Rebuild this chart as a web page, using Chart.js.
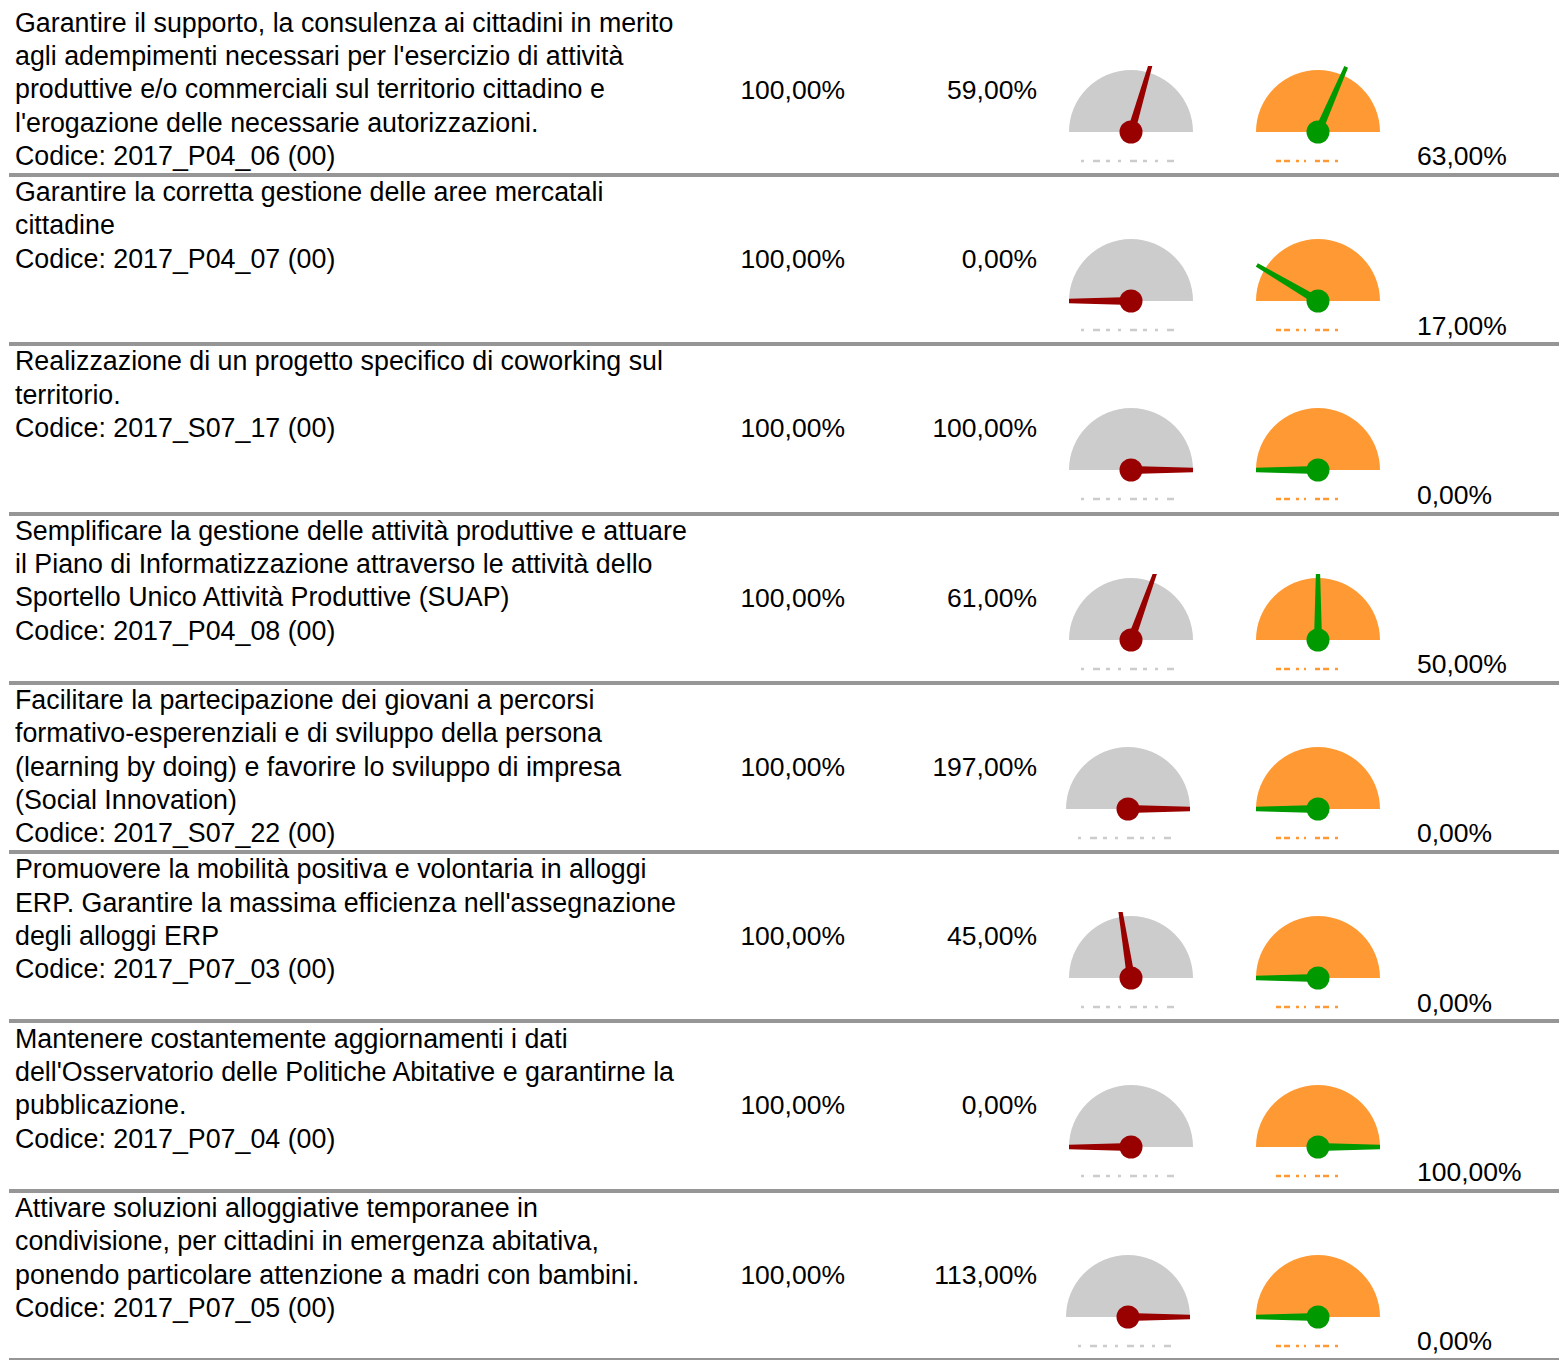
<!DOCTYPE html>
<html>
<head>
<meta charset="utf-8">
<script src="https://cdn.jsdelivr.net/npm/chart.js@4/dist/chart.umd.min.js"></script>
<style>
  html, body { margin: 0; padding: 0; background: #fff; }
  body { width: 1559px; height: 1360px; overflow: hidden; position: relative;
         font-family: "Liberation Sans", Arial, Helvetica, sans-serif; font-size: 26.5px; color: #000; }
  .row { position: absolute; left: 9px; width: 1560px; height: 165.3px; border-bottom: 4px solid #969696; }
  .desc { position: absolute; left: 6px; top: -0.8px; line-height: 33.3px; white-space: pre; font-size: 26.8px; }
  .target { position: absolute; left: 700px; width: 136px; text-align: right; top: 66px; line-height: 33.3px; }
  .actual { position: absolute; left: 880px; width: 148px; text-align: right; top: 66px; line-height: 33.3px; }
  .second { position: absolute; left: 1408px; top: 132.6px; line-height: 33.3px; }
  canvas.g { position: absolute; }
</style>
</head>
<body>
<script>
// ---- data ----
const descriptions = [
  ["Garantire il supporto, la consulenza ai cittadini in merito", "agli adempimenti necessari per l'esercizio di attività", "produttive e/o commerciali sul territorio cittadino e", "l'erogazione delle necessarie autorizzazioni."],
  ["Garantire la corretta gestione delle aree mercatali", "cittadine"],
  ["Realizzazione di un progetto specifico di coworking sul", "territorio."],
  ["Semplificare la gestione delle attività produttive e attuare", "il Piano di Informatizzazione attraverso le attività dello", "Sportello Unico Attività Produttive (SUAP)"],
  ["Facilitare la partecipazione dei giovani a percorsi", "formativo-esperenziali e di sviluppo della persona", "(learning by doing) e favorire lo sviluppo di impresa", "(Social Innovation)"],
  ["Promuovere la mobilità positiva e volontaria in alloggi", "ERP. Garantire la massima efficienza nell'assegnazione", "degli alloggi ERP"],
  ["Mantenere costantemente aggiornamenti i dati", "dell'Osservatorio delle Politiche Abitative e garantirne la", "pubblicazione."],
  ["Attivare soluzioni alloggiative temporanee in", "condivisione, per cittadini in emergenza abitativa,", "ponendo particolare attenzione a madri con bambini."]
];
const codes = ["2017_P04_06 (00)", "2017_P04_07 (00)", "2017_S07_17 (00)", "2017_P04_08 (00)", "2017_S07_22 (00)", "2017_P07_03 (00)", "2017_P07_04 (00)", "2017_P07_05 (00)"];
const targets = [100, 100, 100, 100, 100, 100, 100, 100];
const actuals = [59, 0, 100, 61, 197, 45, 0, 113];
const seconds = [63, 17, 0, 50, 0, 0, 100, 0];
const gaugeMax = 100;

// ---- helpers ----
const fmt = v => v.toFixed(2).replace('.', ',') + '%';

const needlePlugin = {
  id: 'needle',
  afterDatasetsDraw(chart, args, opts) {
    const arc = chart.getDatasetMeta(0).data[0];
    if (!arc) return;
    const { x: cx, y: cy, outerRadius: r } = arc;
    const ctx = chart.ctx;
    const frac = Math.max(0, Math.min(opts.value, gaugeMax)) / gaugeMax;
    const ang = Math.PI + Math.PI * frac;
    const len = r + 9;
    const tx = cx + Math.cos(ang) * len, ty = cy + Math.sin(ang) * len;
    const px = Math.cos(ang + Math.PI / 2), py = Math.sin(ang + Math.PI / 2);
    ctx.save();
    // faint tick row under the gauge
    ctx.strokeStyle = opts.tickColor;
    ctx.lineWidth = 2.5;
    ctx.setLineDash(opts.dash);
    ctx.beginPath();
    ctx.moveTo(cx + opts.tickFrom, cy + 29);
    ctx.lineTo(cx + opts.tickTo, cy + 29);
    ctx.stroke();
    ctx.setLineDash([]);
    // needle, clipped to the gauge box
    ctx.save();
    ctx.beginPath();
    ctx.rect(cx - r, cy - r - 4, 2 * r, r + 20);
    ctx.clip();
    ctx.fillStyle = opts.color;
    ctx.beginPath();
    ctx.moveTo(cx + px * 4, cy + py * 4);
    ctx.lineTo(tx + px * 2, ty + py * 2);
    ctx.lineTo(tx - px * 2, ty - py * 2);
    ctx.lineTo(cx - px * 4, cy - py * 4);
    ctx.closePath();
    ctx.fill();
    ctx.restore();
    // hub
    ctx.fillStyle = opts.color;
    ctx.beginPath();
    ctx.arc(cx, cy, 11.5, 0, Math.PI * 2);
    ctx.fill();
    ctx.restore();
  }
};

function makeGauge(parent, left, top, value, faceColor, needleColor, tickColor, tickFrom, tickTo, dash) {
  const c = document.createElement('canvas');
  c.className = 'g';
  c.width = 132; c.height = 108;
  c.style.left = left + 'px';
  c.style.top = top + 'px';
  c.style.width = '132px'; c.style.height = '108px';
  parent.appendChild(c);
  new Chart(c, {
    type: 'doughnut',
    data: { labels: ['scala'], datasets: [{ data: [gaugeMax], backgroundColor: [faceColor], borderWidth: 0, hoverOffset: 0 }] },
    options: {
      responsive: false, animation: false, events: [],
      rotation: -90, circumference: 180, cutout: 0,
      layout: { padding: { left: 4, right: 4, top: 6, bottom: 40 } },
      plugins: {
        legend: { display: false }, tooltip: { enabled: false },
        needle: { value, color: needleColor, tickColor, tickFrom, tickTo, dash }
      }
    },
    plugins: [needlePlugin]
  });
}

const pitch = 169.29;
const firstSep = 173;
descriptions.forEach((lines, i) => {
  const row = document.createElement('div');
  row.className = 'row';
  row.style.top = (firstSep - 165.3 + i * pitch) + 'px';
  const d = document.createElement('div');
  d.className = 'desc';
  d.textContent = lines.concat(['Codice: ' + codes[i]]).join('\n');
  row.appendChild(d);
  const t = document.createElement('div'); t.className = 'target'; t.textContent = fmt(targets[i]); row.appendChild(t);
  const a = document.createElement('div'); a.className = 'actual'; a.textContent = fmt(actuals[i]); row.appendChild(a);
  const s = document.createElement('div'); s.className = 'second'; s.textContent = fmt(seconds[i]); row.appendChild(s);
  document.body.appendChild(row);
  const shift = actuals[i] > gaugeMax ? -3.5 : 0;
  // gauge centre at (1131, rowTop+124) absolute; canvas centre offset (66, 68); row left is 9
  makeGauge(row, 1131 - 9 - 66 + shift, 124 - 68, actuals[i], '#cccccc', '#990000', '#cccccc', -50, 48, [3, 9, 7, 6, 4, 8]);
  makeGauge(row, 1318 - 9 - 66, 124 - 68, seconds[i], '#ff9933', '#009900', '#ff9933', -42, 23, [5, 3, 6, 6, 3, 5, 2, 9]);
});
</script>
</body>
</html>
